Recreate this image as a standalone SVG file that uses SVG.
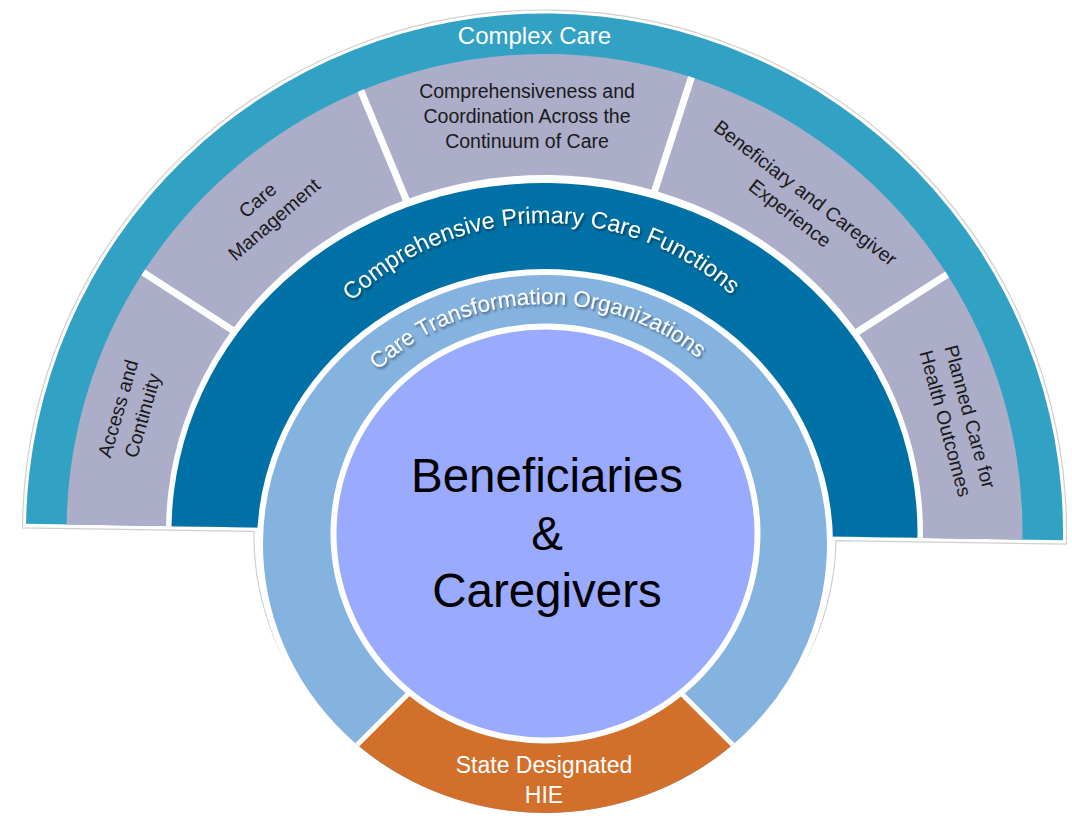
<svg xmlns="http://www.w3.org/2000/svg" width="1072" height="819" viewBox="0 0 1072 819">
<defs>
<style>
.seg{font-family:"Liberation Sans",Arial,sans-serif;font-size:19.5px;fill:#1a1a1a;text-anchor:middle}
.wt{font-family:"Liberation Sans",Arial,sans-serif;fill:#fff;text-anchor:middle}
.sep{stroke:#fff;stroke-width:7}
.gray{fill:#ACADC9}
</style>
<filter id="sh" x="-10%" y="-20%" width="120%" height="140%">
<feDropShadow dx="1.5" dy="2" stdDeviation="1.2" flood-color="#000" flood-opacity="0.45"/>
</filter>
<path id="arcCPC" d="M 268,500 A 277 277 0 0 1 822,500"/>
<path id="arcCTO" d="M 301,548 A 244 244 0 0 1 789,548"/>
</defs>

<g id="outline">
<path transform="rotate(0.9 544.5 532)" d="M 254,536 L 22.5,536 L 22.5,532 A 522 522 0 0 1 1066.5,532 L 1066.5,536 L 836,536 A 291 278 0 1 1 254,536 Z" fill="#fff" stroke="#cfcfcf" stroke-width="1.2"/>
</g>

<g id="complex-care">
<path transform="rotate(0.9 544.5 532)" d="M 26,532 A 518.5 518.5 0 0 1 1063,532 Z" fill="#32A2C4"/>
<text class="wt" x="534.5" y="44" font-size="24">Complex Care</text>
</g>

<g id="access-continuity" transform="rotate(0.9 544.5 532)">
<path class="gray" d="M 544.5,532 L 66.5,532 A 478 478 0 0 1 139.2,278.7 Z"/>
<text class="seg" transform="translate(128.2,418.5) rotate(-74.75)"><tspan x="0" y="-5.75">Access and</tspan><tspan x="0" y="19.75">Continuity</tspan></text>
</g>

<g id="care-management" transform="rotate(0.9 544.5 532)">
<path class="gray" d="M 544.5,532 L 139.2,278.7 A 478 478 0 0 1 353.9,93.6 Z"/>
<text class="seg" transform="translate(260.6,214) rotate(-41.76)"><tspan x="0" y="-5.75">Care</tspan><tspan x="0" y="19.75">Management</tspan></text>
</g>

<g id="comprehensiveness-coordination">
<path class="gray" transform="rotate(0.9 544.5 532)" d="M 544.5,532 L 353.9,93.6 A 478 478 0 0 1 684.3,74.9 Z"/>
<text class="seg"><tspan x="527" y="98">Comprehensiveness  and</tspan><tspan x="527" y="123">Coordination Across the</tspan><tspan x="527" y="148">Continuum  of Care</tspan></text>
</g>

<g id="beneficiary-caregiver-experience" transform="rotate(0.9 544.5 532)">
<path class="gray" d="M 544.5,532 L 684.3,74.9 A 478 478 0 0 1 943.1,268.2 Z"/>
<text class="seg" transform="translate(792.7,198.9) rotate(36.7)"><tspan x="0" y="-5.75">Beneficiary and Caregiver</tspan><tspan x="0" y="19.75">Experience</tspan></text>
</g>

<g id="planned-care" transform="rotate(0.9 544.5 532)">
<path class="gray" d="M 544.5,532 L 943.1,268.2 A 478 478 0 0 1 1022.5,532 Z"/>
<text class="seg" transform="translate(956.2,413.5) rotate(73.9)"><tspan x="0" y="-5.75">Planned  Care for</tspan><tspan x="0" y="19.75">Health Outcomes</tspan></text>
</g>

<g id="dividers" transform="rotate(0.9 544.5 532)">
<line class="sep" x1="256.2" y1="351.8" x2="139.2" y2="278.7"/>
<line class="sep" x1="408.9" y1="220.2" x2="353.9" y2="93.6"/>
<line class="sep" x1="643.9" y1="206.9" x2="684.3" y2="74.9"/>
<line class="sep" x1="828.0" y1="344.3" x2="943.1" y2="268.2"/>
</g>

<g id="primary-care-functions">
<path transform="rotate(0.9 544.5 532)" d="M 166,532 A 378.5 357 0 0 1 923,532 Z" fill="#fff"/>
<path transform="rotate(0.9 544.5 532)" d="M 171.5,532 A 373 349 0 0 1 917.5,532 Z" fill="#0071A6"/>
<text class="wt" font-size="23.5" filter="url(#sh)"><textPath href="#arcCPC" startOffset="430">Comprehensive Primary Care Functions</textPath></text>
</g>

<g id="care-transformation-organizations">
<ellipse cx="545" cy="544" rx="285" ry="272" fill="#85B3E0" stroke="#fff" stroke-width="6"/>
<text class="wt" font-size="22.5" filter="url(#sh)"><textPath href="#arcCTO" startOffset="374">Care Transformation Organizations</textPath></text>
</g>

<g id="state-designated-hie">
<path d="M 545,557 L 357.3,744.7 A 282 269 0 0 0 732.7,744.7 Z" fill="#D26F2B"/>
<line x1="545" y1="557" x2="357.3" y2="744.7" stroke="#fff" stroke-width="5"/>
<line x1="545" y1="557" x2="732.7" y2="744.7" stroke="#fff" stroke-width="5"/>
<text class="wt" font-size="23"><tspan x="544" y="773">State Designated</tspan><tspan x="544" y="803">HIE</tspan></text>
</g>

<g id="beneficiaries-caregivers">
<ellipse cx="545.5" cy="533.5" rx="212" ry="207" fill="#99AAFF" stroke="#fff" stroke-width="6"/>
<text font-family="Liberation Sans, Arial, sans-serif" font-size="47.5" fill="#000" text-anchor="middle"><tspan x="547" y="492">Beneficiaries</tspan><tspan x="547" y="549.5">&amp;</tspan><tspan x="547" y="607">Caregivers</tspan></text>
</g>
</svg>
